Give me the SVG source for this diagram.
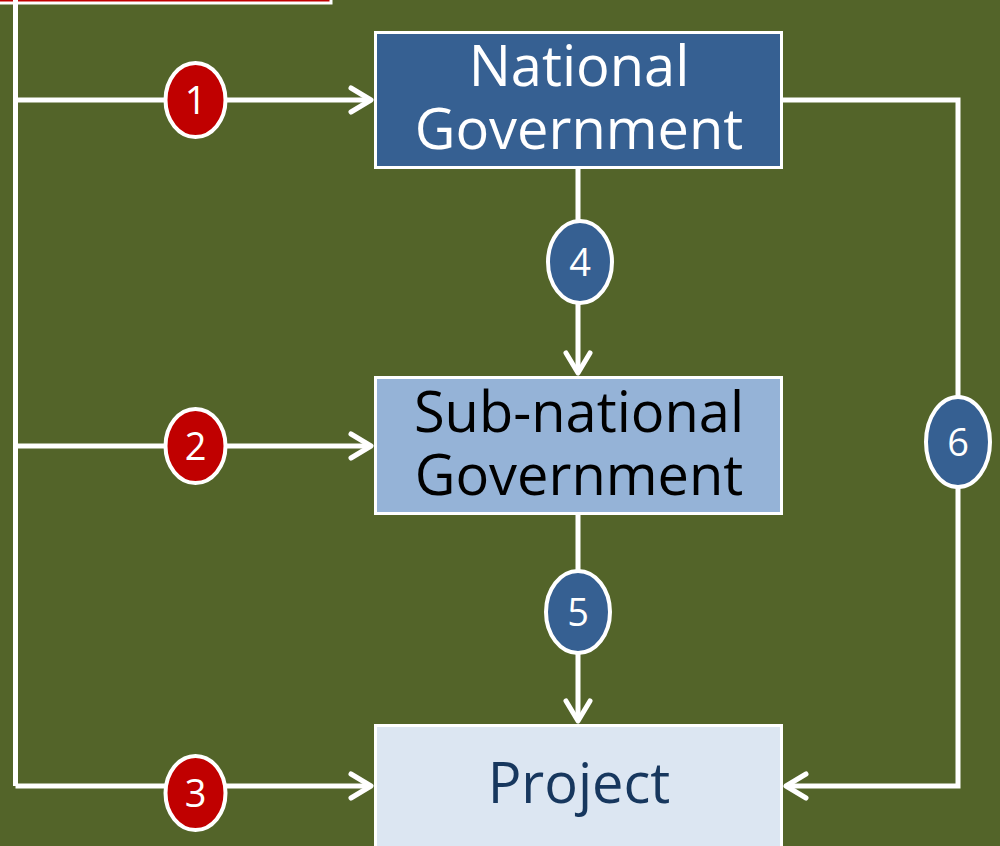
<svg xmlns="http://www.w3.org/2000/svg" width="1000" height="846" viewBox="0 0 1000 846">
<style>
.ln{stroke:#fff;stroke-width:5;fill:none}
.box{stroke:#fff;stroke-width:3}
.t{font-family:"Open Sans","Liberation Sans",sans-serif;font-size:56px;text-anchor:middle}
.b{stroke:#fff;stroke-width:4}
.n{font-family:"Open Sans","Liberation Sans",sans-serif;font-size:38px;fill:#fff;text-anchor:middle}
</style>
<defs>
<marker id="ah" markerWidth="30" markerHeight="30" refX="0" refY="0" orient="auto" markerUnits="userSpaceOnUse" viewBox="-25 -15 30 30" overflow="visible">
<path d="M-20,-12 L0,0 L-20,12" fill="none" stroke="#fff" stroke-width="5" stroke-linecap="round" stroke-linejoin="round"/>
</marker>
</defs>
<rect width="1000" height="846" fill="#536429"/>
<g id="source"><rect x="-10" y="-60" width="341" height="63" fill="#c00000" stroke="#fff" stroke-width="3"/></g>
<g id="connectors">
<path class="ln" d="M15.5,0 V786"/>
<path class="ln" d="M15.5,100 H371" marker-end="url(#ah)"/>
<path class="ln" d="M15.5,446 H371" marker-end="url(#ah)"/>
<path class="ln" d="M15.5,786 H371" marker-end="url(#ah)"/>
<path class="ln" d="M578,168 V373" marker-end="url(#ah)"/>
<path class="ln" d="M578,514 V721" marker-end="url(#ah)"/>
<path class="ln" d="M782,100 H958 V786 H786" marker-end="url(#ah)"/>
</g>
<g id="national"><rect class="box" x="375.5" y="32.5" width="406" height="135" fill="#366092"/>
<text class="t" fill="#fff" x="579" y="86">National</text><text class="t" fill="#fff" x="579" y="149">Government</text></g>
<g id="subnational"><rect class="box" x="375.5" y="377.5" width="406" height="136" fill="#95b3d7"/>
<text class="t" fill="#000" x="579" y="432">Sub-national</text><text class="t" fill="#000" x="579" y="495">Government</text></g>
<g id="project"><rect class="box" x="375.5" y="725.5" width="406" height="130" fill="#dce6f2"/>
<text class="t" fill="#17375e" x="579" y="803">Project</text></g>
<g id="b1"><ellipse class="b" cx="195.5" cy="100" rx="30" ry="37" fill="#c00000"/><text class="n" x="195.5" y="114">1</text></g>
<g id="b2"><ellipse class="b" cx="195.5" cy="446" rx="30" ry="37" fill="#c00000"/><text class="n" x="195.5" y="460">2</text></g>
<g id="b3"><ellipse class="b" cx="195.5" cy="793" rx="30" ry="37" fill="#c00000"/><text class="n" x="195.5" y="807">3</text></g>
<g id="b4"><ellipse class="b" cx="580" cy="262" rx="32" ry="41" fill="#366092"/><text class="n" x="580" y="276">4</text></g>
<g id="b5"><ellipse class="b" cx="578" cy="612" rx="32" ry="41" fill="#366092"/><text class="n" x="578" y="626">5</text></g>
<g id="b6"><ellipse class="b" cx="958" cy="442" rx="32" ry="45" fill="#366092"/><text class="n" x="958" y="456">6</text></g>
</svg>
